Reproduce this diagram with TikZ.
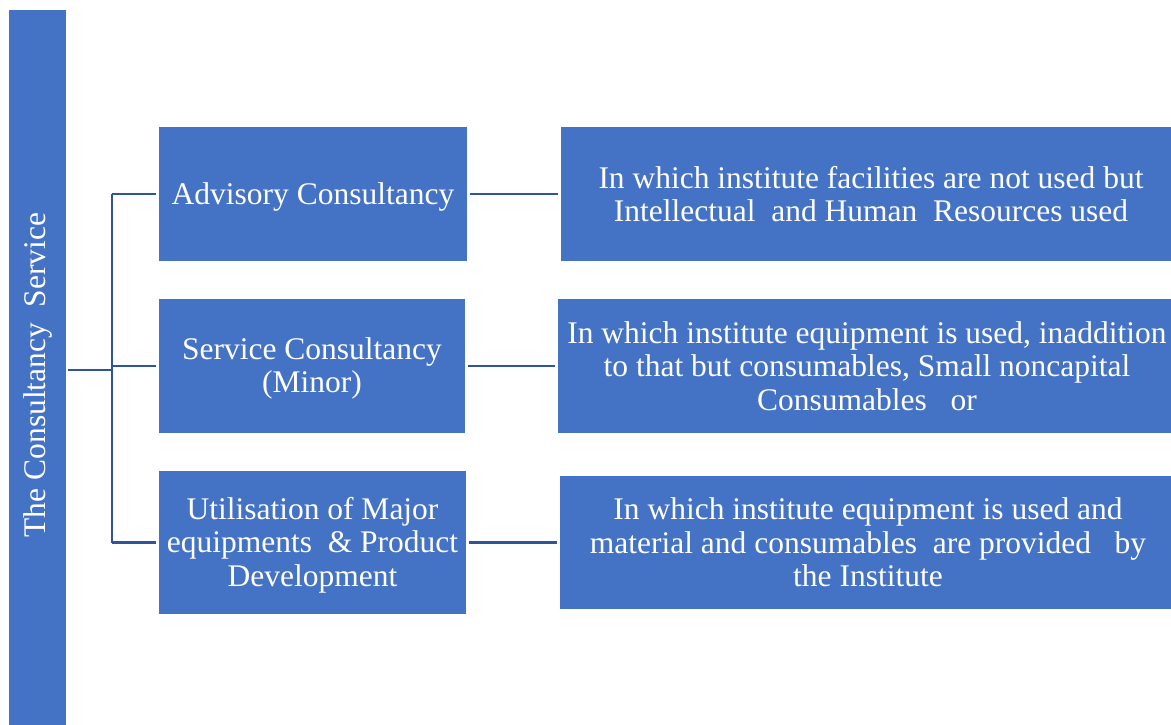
\documentclass[tikz,border=0pt]{standalone}
\usepackage{fontspec}
\setmainfont{Liberation Serif}
\definecolor{boxblue}{HTML}{4472C4}
\definecolor{lineblue}{HTML}{2F5597}
\newcommand\lowtext[1]{\raisebox{-3.5bp}[\height][\depth]{\begin{tabular}{@{}c@{}}#1\end{tabular}}}
\begin{document}
\begin{tikzpicture}[x=1bp,y=-1bp,
  box/.style={fill=boxblue,draw=none,text=white,align=center,inner sep=0pt,
    font=\fontsize{31.5bp}{33.5bp}\selectfont},
  link/.style={draw=lineblue,line width=2.2bp}]
\useasboundingbox (0,0) rectangle (1171,725);
\node[box,minimum width=730bp,minimum height=57bp,rotate=90] (bar) at (37.5,375) {The\ Consultancy\ \ Service};
\node[box,minimum width=308bp,minimum height=134bp] (b1) at (313,194) {\lowtext{Advisory Consultancy}};
\node[box,minimum width=306bp,minimum height=134bp] (b2) at (312,366) {\lowtext{Service Consultancy\\(Minor)}};
\node[box,minimum width=307bp,minimum height=143bp] (b3) at (312.5,542.5) {\lowtext{Utilisation of Major\\equipments\ \ \& Product\\Development}};
\node[box,minimum width=620bp,minimum height=134bp] (r1) at (871,194) {In which institute\ facilities are not used but\\Intellectual\ \ and\ Human\ \ Resources used};
\node[box,minimum width=618bp,minimum height=134bp] (r2) at (867,366) {In which institute equipment is used, inaddition\\to that but consumables, Small noncapital\\Consumables\ \ \ or};
\node[box,minimum width=616bp,minimum height=133bp] (r3) at (868,542.5) {In which institute equipment\ is used and\\material and consumables\ \ are provided\ \ \ by\\the Institute};
\coordinate (j) at (112,370);
\draw[link] ([xshift=2bp]bar.south |- j) -- (j);
\draw[link] (j |- b1.west) -- (j |- b3.west);
\draw[link] (j |- b1.west) -- ([xshift=-3bp]b1.west);
\draw[link] (j |- b2.west) -- ([xshift=-3bp]b2.west);
\draw[link] (j |- b3.west) -- ([xshift=-3bp]b3.west);
\draw[link] ([xshift=3bp]b1.east) -- ([xshift=-3bp]r1.west);
\draw[link] ([xshift=3bp]b2.east) -- ([xshift=-3bp]r2.west);
\draw[link] ([xshift=3bp]b3.east) -- ([xshift=-3bp]r3.west);
\end{tikzpicture}
\end{document}
